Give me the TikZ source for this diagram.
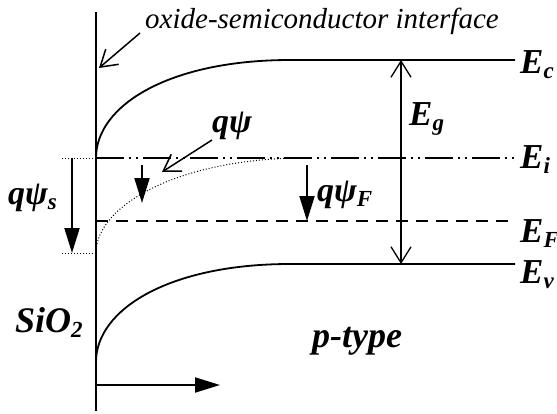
\documentclass[tikz,border=0pt]{standalone}
\usepackage{fontspec}
\setmainfont{Liberation Serif}
\usetikzlibrary{arrows.meta}
\newcommand\lsub[1]{\raisebox{-0.35ex}{\fontsize{23}{23}\selectfont #1}}
\begin{document}
\begin{tikzpicture}[x=1pt,y=-1pt,
  lbl/.style={font=\fontsize{35}{35}\selectfont\bfseries\itshape, inner sep=0pt, anchor=base west},
  qlbl/.style={font=\fontsize{34}{34}\selectfont\bfseries\itshape, inner sep=0pt, anchor=base west},
  biglbl/.style={font=\fontsize{36}{36}\selectfont\bfseries\itshape, inner sep=0pt, anchor=base west},
  note/.style={font=\fontsize{29}{29}\selectfont\itshape, inner sep=0pt, anchor=base west},
  band/.style={line width=1.8pt},
  axis/.style={line width=2.5pt},
  fill arrow/.style={line width=2pt, -{Triangle[length=25pt,width=15pt]}},
  barb arrow/.style={line width=1.5pt, -{Straight Barb[length=16pt,width=20pt,line width=1.5pt]}},
  gap arrow/.style={line width=1.3pt, {Straight Barb[length=16pt,width=20pt]}-{Straight Barb[length=16pt,width=20pt]}},
  intrinsic/.style={line width=1.8pt, dash pattern=on 28pt off 5pt on 2pt off 5pt on 2pt off 5pt},
  fermi/.style={line width=1.8pt, dash pattern=on 12pt off 8pt},
  guide/.style={line width=1pt, dotted}
]
\useasboundingbox (0,0) rectangle (557,413);
% coordinates
\coordinate (axtop) at (96,12);
\coordinate (axbot) at (96,411);
\coordinate (ec0) at (96,158);
\coordinate (ec1) at (290,60);
\coordinate (ec2) at (515,60);
\coordinate (ev0) at (96,362);
\coordinate (ev1) at (290,264);
\coordinate (ev2) at (515,264);
\coordinate (ei2) at (515,158);
\coordinate (eil) at (62,158);
\coordinate (ef0) at (96,221);
\coordinate (ef2) at (515,221);
\coordinate (ps0) at (96,253);
\coordinate (ps1) at (305,158);
\coordinate (psl) at (62,253);
\coordinate (qs0) at (72,158);
\coordinate (qs1) at (72,253);
\coordinate (qa0) at (142,165);
\coordinate (qa1) at (142,203);
\coordinate (qf0) at (307,165);
\coordinate (qf1) at (307,221);
\coordinate (eg0) at (401,60);
\coordinate (eg1) at (401,264);
\coordinate (if0) at (140,33);
\coordinate (if1) at (99,68);
\coordinate (qp0) at (212,140);
\coordinate (qp1) at (162,172);
\coordinate (x0) at (96,385);
\coordinate (x1) at (220,385);
% axis
\draw[axis] (axtop) -- (axbot);
% bands
\draw[band] (ec0) .. controls (96,105) and (170,60) .. (ec1) -- (ec2);
\draw[band] (ev0) .. controls (96,309) and (170,264) .. (ev1) -- (ev2);
\draw[intrinsic] (ec0) -- (ei2);
\draw[fermi] (ef0) -- (ef2);
\draw[guide] (ps0) .. controls (96,205) and (180,158) .. (ps1);
\draw[guide] (eil) -- (ec0);
\draw[guide] (psl) -- (ps0);
% arrows
\draw[fill arrow] (qs0) -- (qs1);
\draw[fill arrow] (qa0) -- (qa1);
\draw[fill arrow] (qf0) -- (qf1);
\draw[fill arrow] (x0) -- (x1);
\draw[gap arrow] (eg1) -- (eg0);
\draw[barb arrow] (if0) -- (if1);
\draw[barb arrow] (qp0) -- (qp1);
% labels
\node[note] (iface) at (145,28) {oxide-semiconductor interface};
\node[lbl] (Ec) at (520,73) {E\lsub{c}};
\node[lbl] (Ei) at (520,168) {E\lsub{i}};
\node[lbl] (EF) at (520,242) {E\lsub{F}};
\node[lbl] (Ev) at (520,283) {E\lsub{v}};
\node[lbl] (Eg) at (409,125) {E\lsub{g}};
\node[qlbl] (qpsiF) at (317,201) {qψ\lsub{F}};
\node[qlbl] (qpsi) at (212,132) {qψ};
\node[qlbl] (qpsis) at (8,204) {qψ\lsub{s}};
\node[biglbl] (sio2) at (15,332) {SiO\lsub{2}};
\node[biglbl] (ptype) at (312,347) {p-type};
\end{tikzpicture}
\end{document}
